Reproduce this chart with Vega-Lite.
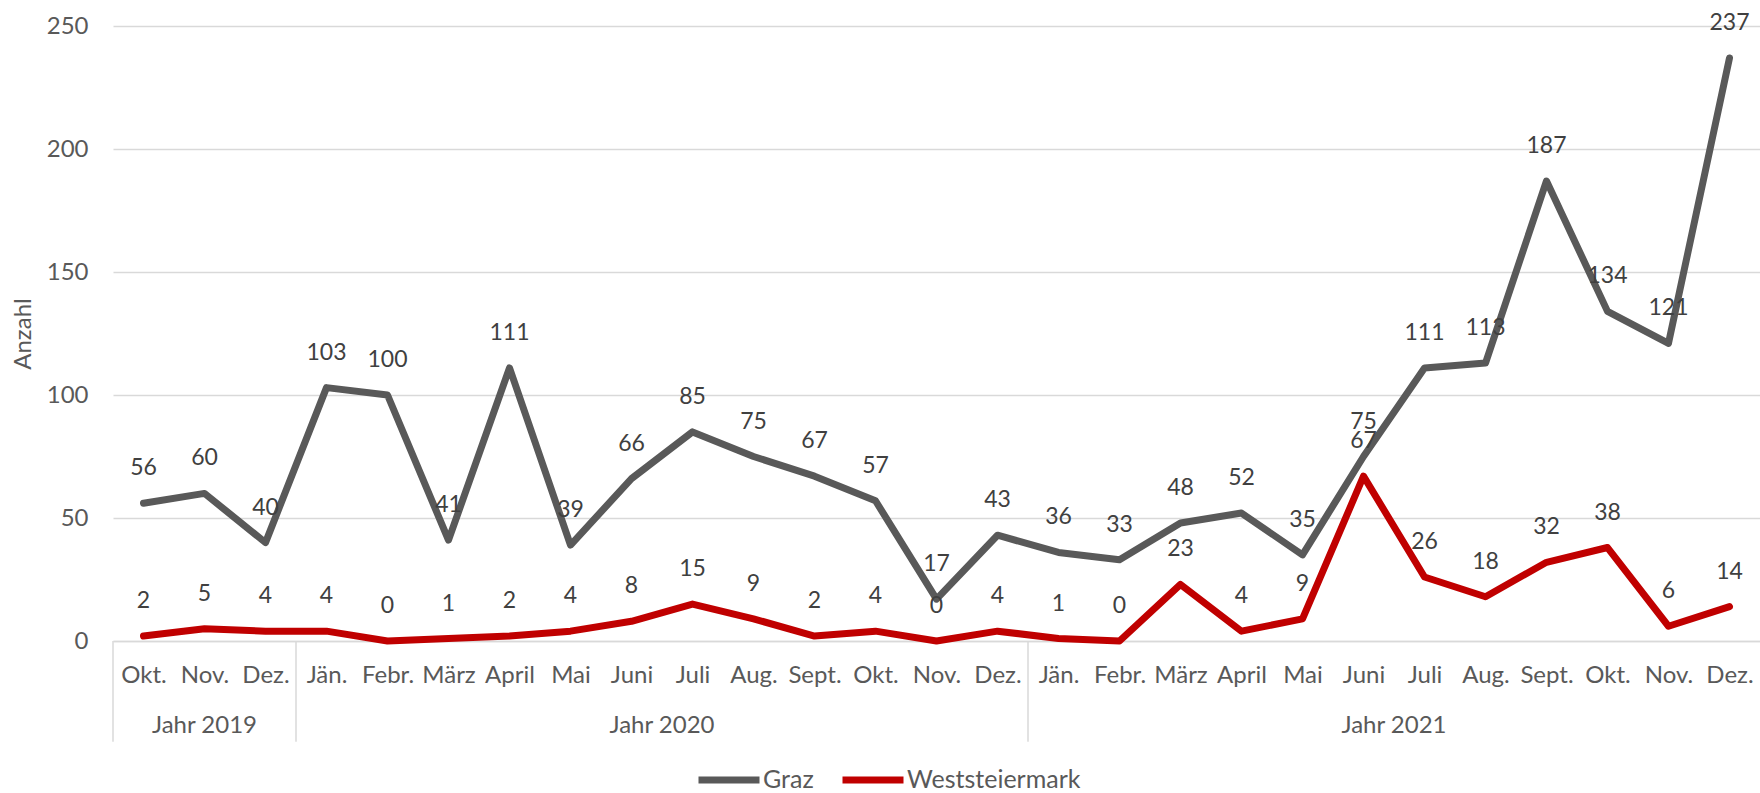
{
  "$schema": "https://vega.github.io/schema/vega-lite/v6.json",
  "autosize": {"type": "none"},
  "width": 1647,
  "height": 615,
  "padding": {"left": 113, "top": 26, "right": 0, "bottom": 152},
  "background": "white",
  "config": {
    "view": {"stroke": null},
    "font": "Lato",
    "axis": {"labelFont": "Lato", "titleFont": "Lato", "labelColor": "#595959", "titleColor": "#595959"},
    "legend": {"labelFont": "Lato"}
  },
  "datasets": {
    "main": [
      {"i": 0, "s": "Graz", "v": 56}, {"i": 1, "s": "Graz", "v": 60}, {"i": 2, "s": "Graz", "v": 40},
      {"i": 3, "s": "Graz", "v": 103}, {"i": 4, "s": "Graz", "v": 100}, {"i": 5, "s": "Graz", "v": 41},
      {"i": 6, "s": "Graz", "v": 111}, {"i": 7, "s": "Graz", "v": 39}, {"i": 8, "s": "Graz", "v": 66},
      {"i": 9, "s": "Graz", "v": 85}, {"i": 10, "s": "Graz", "v": 75}, {"i": 11, "s": "Graz", "v": 67},
      {"i": 12, "s": "Graz", "v": 57}, {"i": 13, "s": "Graz", "v": 17}, {"i": 14, "s": "Graz", "v": 43},
      {"i": 15, "s": "Graz", "v": 36}, {"i": 16, "s": "Graz", "v": 33}, {"i": 17, "s": "Graz", "v": 48},
      {"i": 18, "s": "Graz", "v": 52}, {"i": 19, "s": "Graz", "v": 35}, {"i": 20, "s": "Graz", "v": 75},
      {"i": 21, "s": "Graz", "v": 111}, {"i": 22, "s": "Graz", "v": 113}, {"i": 23, "s": "Graz", "v": 187},
      {"i": 24, "s": "Graz", "v": 134}, {"i": 25, "s": "Graz", "v": 121}, {"i": 26, "s": "Graz", "v": 237},
      {"i": 0, "s": "Weststeiermark", "v": 2}, {"i": 1, "s": "Weststeiermark", "v": 5}, {"i": 2, "s": "Weststeiermark", "v": 4},
      {"i": 3, "s": "Weststeiermark", "v": 4}, {"i": 4, "s": "Weststeiermark", "v": 0}, {"i": 5, "s": "Weststeiermark", "v": 1},
      {"i": 6, "s": "Weststeiermark", "v": 2}, {"i": 7, "s": "Weststeiermark", "v": 4}, {"i": 8, "s": "Weststeiermark", "v": 8},
      {"i": 9, "s": "Weststeiermark", "v": 15}, {"i": 10, "s": "Weststeiermark", "v": 9}, {"i": 11, "s": "Weststeiermark", "v": 2},
      {"i": 12, "s": "Weststeiermark", "v": 4}, {"i": 13, "s": "Weststeiermark", "v": 0}, {"i": 14, "s": "Weststeiermark", "v": 4},
      {"i": 15, "s": "Weststeiermark", "v": 1}, {"i": 16, "s": "Weststeiermark", "v": 0}, {"i": 17, "s": "Weststeiermark", "v": 23},
      {"i": 18, "s": "Weststeiermark", "v": 4}, {"i": 19, "s": "Weststeiermark", "v": 9}, {"i": 20, "s": "Weststeiermark", "v": 67},
      {"i": 21, "s": "Weststeiermark", "v": 26}, {"i": 22, "s": "Weststeiermark", "v": 18}, {"i": 23, "s": "Weststeiermark", "v": 32},
      {"i": 24, "s": "Weststeiermark", "v": 38}, {"i": 25, "s": "Weststeiermark", "v": 6}, {"i": 26, "s": "Weststeiermark", "v": 14}
    ]
  },
  "layer": [
    {
      "data": {"name": "main"},
      "mark": {"type": "line", "strokeWidth": 7, "strokeCap": "round", "strokeJoin": "round"},
      "encoding": {
        "x": {
          "field": "i", "type": "quantitative",
          "scale": {"domain": [-0.5, 26.5], "nice": false, "zero": false},
          "axis": {
            "title": null, "values": [0,1,2,3,4,5,6,7,8,9,10,11,12,13,14,15,16,17,18,19,20,21,22,23,24,25,26],
            "labelExpr": "['Okt.','Nov.','Dez.','Jän.','Febr.','März','April','Mai','Juni','Juli','Aug.','Sept.','Okt.','Nov.','Dez.','Jän.','Febr.','März','April','Mai','Juni','Juli','Aug.','Sept.','Okt.','Nov.','Dez.'][datum.value]",
            "grid": false, "ticks": false, "tickSize": 0, "labelPadding": 34, "labelBaseline": "middle",
            "labelFontSize": 24, "labelOverlap": false, "labelFlush": false, "labelLimit": 0,
            "domainColor": "#d9d9d9", "domainWidth": 1.5
          }
        },
        "y": {
          "field": "v", "type": "quantitative",
          "scale": {"domain": [0, 250], "nice": false},
          "axis": {
            "title": "Anzahl", "values": [0, 50, 100, 150, 200, 250],
            "grid": true, "gridColor": "#d9d9d9", "gridWidth": 1.5,
            "domain": false, "ticks": false, "tickSize": 0, "labelPadding": 25,
            "labelFontSize": 24, "titleFontSize": 24, "titleFontWeight": "normal",
            "titleAngle": 270, "titleX": -90, "titleY": 307.5, "titleAlign": "center", "titleBaseline": "middle"
          }
        },
        "color": {
          "field": "s", "type": "nominal",
          "scale": {"domain": ["Graz", "Weststeiermark"], "range": ["#595959", "#C00000"]},
          "legend": {
            "title": null, "orient": "none", "direction": "horizontal",
            "legendX": 582, "legendY": 720, "padding": 0,
            "symbolType": "stroke", "symbolSize": 3721, "symbolStrokeWidth": 7,
            "labelFontSize": 25, "labelColor": "#595959", "labelOffset": 0, "labelLimit": 0, "columnPadding": 14
          }
        }
      }
    },
    {
      "data": {"values": [{"b": -0.5}, {"b": 2.5}, {"b": 14.5}]},
      "mark": {"type": "rule", "color": "#d9d9d9", "strokeWidth": 1.5},
      "encoding": {
        "x": {"field": "b", "type": "quantitative"},
        "y": {"datum": 0, "type": "quantitative"},
        "y2": {"datum": -41}
      }
    },
    {
      "data": {"values": [{"c": 1, "label": "Jahr 2019"}, {"c": 8.5, "label": "Jahr 2020"}, {"c": 20.5, "label": "Jahr 2021"}]},
      "mark": {"type": "text", "font": "Lato", "fontSize": 24, "color": "#595959", "baseline": "middle", "align": "center"},
      "encoding": {
        "x": {"field": "c", "type": "quantitative"},
        "y": {"datum": -34.5, "type": "quantitative"},
        "text": {"field": "label"}
      }
    },
    {
      "data": {"name": "main"},
      "mark": {"type": "text", "font": "Lato", "fontSize": 23, "color": "#404040", "dy": -35, "baseline": "middle", "align": "center"},
      "encoding": {
        "x": {"field": "i", "type": "quantitative"},
        "y": {"field": "v", "type": "quantitative"},
        "text": {"field": "v", "type": "quantitative"}
      }
    }
  ]
}
